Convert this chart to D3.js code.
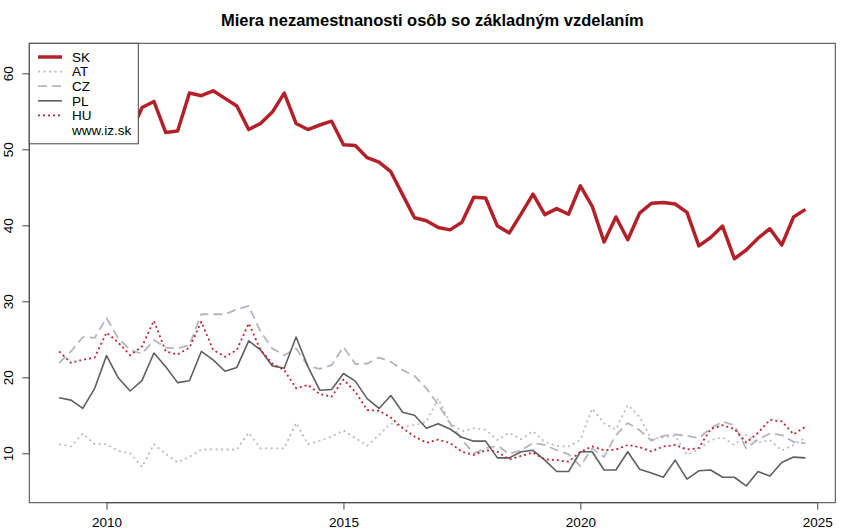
<!DOCTYPE html>
<html>
<head>
<meta charset="utf-8">
<script src="https://cdn.jsdelivr.net/npm/d3@7"></script>
<style>
  html, body { margin: 0; padding: 0; background: #fff; }
  svg { display: block; font-family: "Liberation Sans", Arial, sans-serif; }
</style>
</head>
<body>
<svg id="chart" width="850" height="532"></svg>
<script>
const title = "Miera nezamestnanosti osôb so základným vzdelaním";
const startYear = 2009;
const xTicks = [2010, 2015, 2020, 2025];
const yTicks = [10, 20, 30, 40, 50, 60];
const legendNames = ["SK", "AT", "CZ", "PL", "HU"];
const sourceLabel = "www.iz.sk";

const SK = [53.5, 56.0, 55.0, 57.5, 61.7, 58.5, 52.0, 55.5, 56.3, 52.2, 52.4, 57.4, 57.05, 57.7, 56.7, 55.7,
  52.6, 53.4, 54.9, 57.4, 53.4, 52.6, 53.2, 53.7, 50.6, 50.5, 48.9, 48.3, 47.05, 44.0, 41.0, 40.6,
  39.7, 39.4, 40.4, 43.7, 43.6, 39.9, 39.0, 41.5, 44.1, 41.4, 42.2, 41.45, 45.2, 42.5, 37.8, 41.1,
  38.1, 41.6, 42.9, 43.0, 42.8, 41.7, 37.3, 38.4, 39.9, 35.6, 36.75, 38.3, 39.55, 37.4, 41.1, 42.1];
const AT = [11.2, 10.9, 12.6, 11.2, 11.2, 10.3, 10.0, 8.2, 11.2, 9.9, 8.8, 9.55, 10.5, 10.5, 10.5, 10.5,
  12.7, 10.65, 10.65, 10.65, 14.0, 11.2, 11.65, 12.2, 13.0, 12.0, 11.0, 12.4, 13.95, 13.5, 13.7, 14.15,
  17.2, 14.0, 12.9, 13.3, 13.1, 11.75, 12.7, 11.85, 12.9, 11.5, 10.95, 10.9, 11.75, 15.9, 13.95, 13.15,
  16.35, 14.8, 11.85, 12.1, 12.3, 9.8, 10.5, 11.75, 12.1, 11.1, 12.4, 11.4, 11.75, 10.35, 11.1, 12.05];
const CZ = [21.9, 23.4, 25.3, 25.2, 27.8, 25.1, 23.6, 23.1, 24.9, 23.9, 23.8, 24.25, 28.3, 28.3, 28.3, 28.95,
  29.4, 26.0, 23.8, 22.9, 23.8, 21.5, 21.1, 21.6, 24.0, 21.75, 21.8, 22.6, 22.05, 20.95, 20.2, 18.55,
  16.4, 13.95, 11.75, 10.0, 10.65, 11.0, 9.9, 10.4, 11.35, 11.1, 10.4, 9.9, 8.3, 10.65, 9.5, 12.4,
  14.0, 13.05, 11.65, 12.3, 12.5, 12.3, 12.0, 13.3, 14.15, 13.7, 10.65, 11.85, 12.6, 12.4, 11.5, 11.3];
const PL = [17.3, 17.0, 15.9, 18.55, 22.85, 19.9, 18.2, 19.6, 23.2, 21.4, 19.3, 19.55, 23.4, 22.3, 20.8, 21.3,
  24.8, 23.6, 21.5, 21.2, 25.3, 21.4, 18.3, 18.4, 20.5, 19.5, 17.2, 15.9, 17.6, 15.4, 15.0, 13.3,
  13.9, 13.2, 12.1, 11.6, 11.6, 9.4, 9.4, 10.2, 10.4, 9.1, 7.6, 7.6, 10.2, 10.2, 7.8, 7.8,
  10.2, 7.9, 7.4, 6.85, 9.1, 6.6, 7.7, 7.8, 6.85, 6.85, 5.7, 7.6, 7.0, 8.8, 9.5, 9.4];
const HU = [23.4, 21.9, 22.3, 22.6, 25.9, 24.55, 22.9, 24.1, 27.45, 23.4, 23.0, 23.9, 27.3, 23.6, 22.7, 23.6,
  27.1, 23.6, 21.8, 20.95, 18.55, 19.0, 17.8, 17.45, 19.7, 18.1, 15.7, 15.6, 14.7, 13.3, 12.2, 11.4,
  11.8, 11.35, 10.2, 9.8, 10.4, 10.2, 9.2, 9.65, 10.1, 9.2, 9.1, 8.9, 10.2, 10.9, 10.4, 10.5,
  11.1, 10.8, 10.25, 10.9, 11.1, 10.5, 10.7, 13.2, 13.7, 13.2, 11.4, 12.7, 14.4, 14.2, 12.5, 13.5];

const periods = SK.map((_, i) => startYear + i / 4);

const styles = {
  SK: { color: "#b3202a", width: 3.5, dash: null },
  AT: { color: "#b9bbc2", width: 1.8, dash: "2,3.5" },
  CZ: { color: "#b1b6be", width: 1.8, dash: "9,5" },
  PL: { color: "#5f5f5f", width: 1.6, dash: null },
  HU: { color: "#c0262e", width: 1.8, dash: "2,3" }
};
const seriesData = { SK, AT, CZ, PL, HU };

const svg = d3.select("#chart");
const plot = { left: 29.3, right: 835.3, top: 43.3, bottom: 502.7 };

const xMin = d3.min(periods), xMax = d3.max(periods);
const xPad = 0.04 * (xMax - xMin);
const x = d3.scaleLinear().domain([xMin - xPad, xMax + xPad]).range([plot.left, plot.right]);
const y = d3.scaleLinear().domain([3.5, 63.95]).range([plot.bottom, plot.top]);

// Title
svg.append("text").attr("x", (plot.left + plot.right) / 2).attr("y", 26)
  .attr("text-anchor", "middle").attr("font-weight", "bold").attr("font-size", 16.5)
  .attr("fill", "#000").text(title);

// Series lines
const line = d3.line().x((d, i) => x(periods[i])).y(d => y(d));
const order = ["SK", "AT", "CZ", "PL", "HU"];
const g = svg.append("g");
order.forEach(name => {
  const s = styles[name];
  g.append("path").datum(seriesData[name])
    .attr("d", line).attr("fill", "none")
    .attr("stroke", s.color).attr("stroke-width", s.width)
    .attr("stroke-linejoin", "round")
    .attr("stroke-dasharray", s.dash);
});

// Box
svg.append("rect").attr("x", plot.left).attr("y", plot.top)
  .attr("width", plot.right - plot.left).attr("height", plot.bottom - plot.top)
  .attr("fill", "none").attr("stroke", "#444").attr("stroke-width", 1);

// X axis
const xAxis = d3.axisBottom(x).tickValues(xTicks).tickFormat(d3.format("d")).tickSize(7).tickPadding(8);
const gx = svg.append("g").attr("transform", `translate(0,${plot.bottom})`).call(xAxis);
gx.select(".domain").attr("d", `M${x(xTicks[0])},0H${x(xTicks[xTicks.length - 1])}`).attr("stroke", "#444");
gx.selectAll(".tick line").attr("stroke", "#444");
gx.selectAll("text").attr("font-size", 13.5).attr("fill", "#000")
  .attr("font-family", "Liberation Sans, Arial, sans-serif");

// Y axis
const yAxis = d3.axisLeft(y).tickValues(yTicks).tickFormat(d3.format("d")).tickSize(7).tickPadding(0);
const gy = svg.append("g").attr("transform", `translate(${plot.left},0)`).call(yAxis);
gy.select(".domain").attr("d", `M0,${y(yTicks[0])}V${y(yTicks[yTicks.length - 1])}`).attr("stroke", "#444");
gy.selectAll(".tick line").attr("stroke", "#444");
gy.selectAll("text")
  .attr("font-size", 13.5).attr("fill", "#000")
  .attr("font-family", "Liberation Sans, Arial, sans-serif")
  .attr("x", null).attr("dy", null)
  .attr("text-anchor", "middle")
  .attr("transform", "translate(-21,0) rotate(-90)")
  .attr("dy", "0.35em");

// Legend
const lg = svg.append("g");
lg.append("rect").attr("x", plot.left).attr("y", plot.top)
  .attr("width", 109).attr("height", 100.5)
  .attr("fill", "#fff").attr("stroke", "#444").attr("stroke-width", 1);
const rowH = 14.6;
legendNames.forEach((name, i) => {
  const s = styles[name];
  const cy = 57 + i * rowH;
  lg.append("line").attr("x1", 38).attr("x2", 62).attr("y1", cy).attr("y2", cy)
    .attr("stroke", s.color).attr("stroke-width", s.width)
    .attr("stroke-dasharray", s.dash);
  lg.append("text").attr("x", 72).attr("y", cy).attr("dy", "0.36em")
    .attr("font-size", 13.5).attr("fill", "#000").text(name);
});
lg.append("text").attr("x", 72).attr("y", 57 + 5 * rowH).attr("dy", "0.36em")
  .attr("font-size", 13.5).attr("fill", "#000").text(sourceLabel);
</script>
</body>
</html>
